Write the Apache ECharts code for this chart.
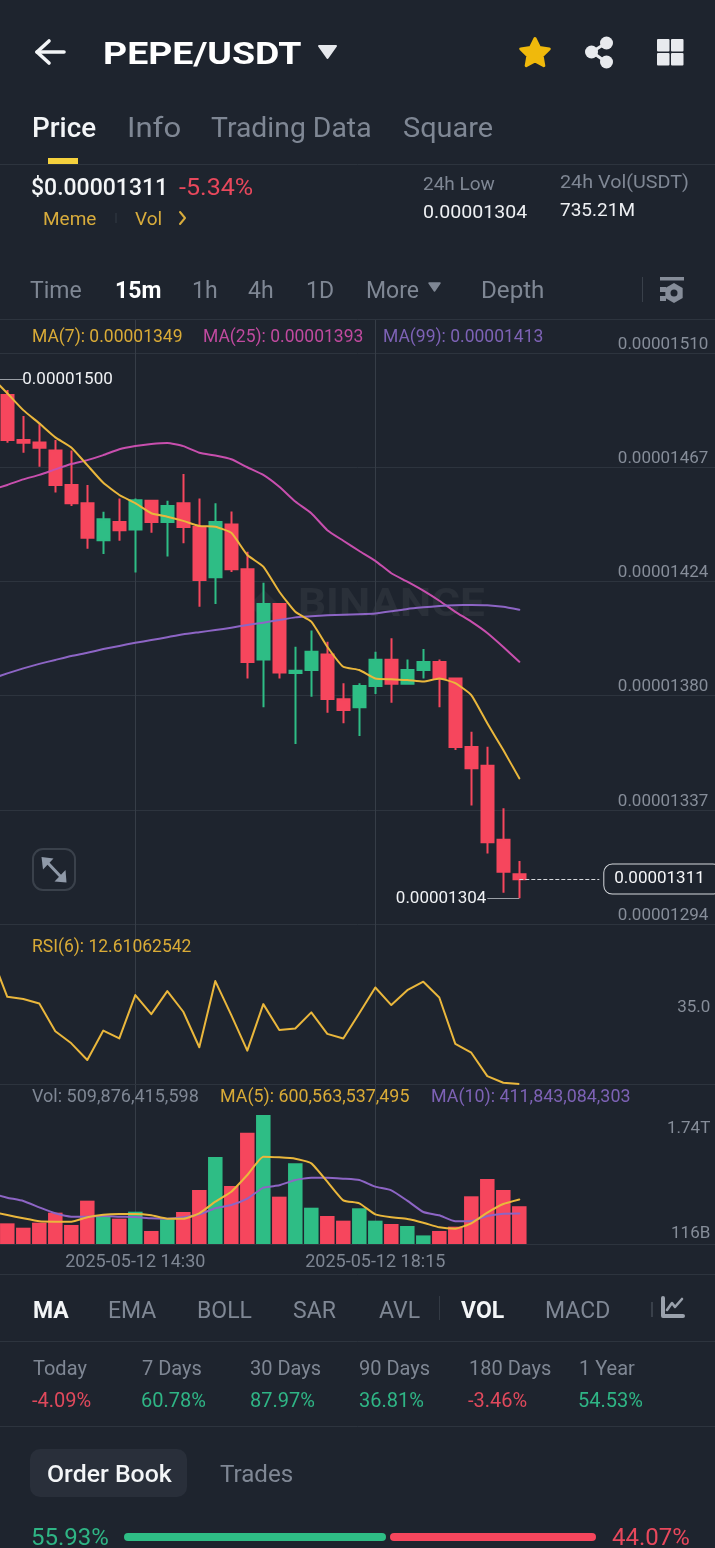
<!DOCTYPE html>
<html><head><meta charset="utf-8"><title>PEPE/USDT</title>
<style>html,body{margin:0;padding:0;background:#1e242e}#c{width:715px;height:1548px}</style>
<script src="https://cdn.jsdelivr.net/npm/echarts@6/dist/echarts.min.js"></script>
</head><body><div id="c"></div>
<script>
// Prices are in units of 1e-8 USDT. The first entry sits just left of the visible window.
const categories = ['2025-05-12 12:15','2025-05-12 12:30','2025-05-12 12:45','2025-05-12 13:00','2025-05-12 13:15','2025-05-12 13:30','2025-05-12 13:45','2025-05-12 14:00','2025-05-12 14:15','2025-05-12 14:30','2025-05-12 14:45','2025-05-12 15:00','2025-05-12 15:15','2025-05-12 15:30','2025-05-12 15:45','2025-05-12 16:00','2025-05-12 16:15','2025-05-12 16:30','2025-05-12 16:45','2025-05-12 17:00','2025-05-12 17:15','2025-05-12 17:30','2025-05-12 17:45','2025-05-12 18:00','2025-05-12 18:15','2025-05-12 18:30','2025-05-12 18:45','2025-05-12 19:00','2025-05-12 19:15','2025-05-12 19:30','2025-05-12 19:45','2025-05-12 20:00','2025-05-12 20:15','2025-05-12 20:30','2025-05-12 20:45','2025-05-12 21:00','2025-05-12 21:15','2025-05-12 21:30','2025-05-12 21:45','2025-05-12 22:00','2025-05-12 22:15','2025-05-12 22:30','2025-05-12 22:45','2025-05-12 23:00','2025-05-12 23:15','2025-05-12 23:30'];
const opens  = [1497,1494.1,1477.1,1476.2,1473.1,1460.1,1453.2,1439.2,1446.1,1443.2,1454.1,1446.1,1453.2,1444.2,1425.2,1445.1,1428.2,1394.1,1415.1,1389.0,1390.1,1396.0,1379.0,1376.0,1384.0,1394.0,1384.9,1390.1,1393.1,1386.9,1361.0,1353.9,1325.9,1312.8];
const closes = [1494.5,1477.1,1476.1,1474.2,1460.1,1453.2,1440.1,1447.1,1443.0,1454.3,1446.1,1452.1,1444.2,1424.1,1446.1,1428.2,1393.1,1415.1,1389.1,1389.8,1397.0,1379.1,1375.0,1384.0,1394.0,1384.9,1390.1,1393.1,1386.9,1361.0,1352.9,1324.9,1313.8,1310.9];
const lows   = [1492,1476.1,1472.3,1467.0,1457.2,1452.1,1436.0,1434.0,1439.0,1427.0,1442.0,1433.0,1438.0,1414.0,1415.1,1427.2,1386.9,1376.0,1386.9,1362.1,1380.0,1373.9,1369.9,1365.1,1381.0,1377.7,1384.9,1386.9,1376.0,1359.8,1338.8,1320.7,1305.8,1303.7];
const highs  = [1500,1496.0,1486.2,1483.4,1477.1,1473.1,1460.1,1450.0,1455.0,1455.0,1454.1,1454.1,1464.2,1455.0,1453.2,1450.1,1434.8,1423.1,1415.1,1398.9,1405.0,1400.8,1385.1,1385.1,1397.0,1402.1,1394.1,1398.0,1394.1,1386.9,1366.7,1361.1,1337.8,1317.8];
const ma7  = [1500.9,1494.8,1488.4,1483.4,1478.1,1474.3,1467.6,1460.9,1456.3,1453.2,1449.4,1448.1,1446.5,1444.6,1444.3,1442.0,1433.6,1429.2,1419.7,1412.1,1408.4,1398.9,1391.3,1390.1,1386.9,1386.6,1386.3,1385.7,1386.9,1385.1,1380.6,1369.9,1359.8,1349.1];
const ma25 = [1458.2,1460.1,1462.2,1463.9,1466.0,1468.0,1469.5,1471.4,1473.6,1474.8,1475.6,1476.0,1474.8,1472.3,1471.2,1469.8,1466.8,1463.9,1459.4,1453.8,1449.4,1443.0,1439.0,1435.1,1431.4,1426.7,1423.5,1420.1,1416.3,1412.1,1408.4,1404.1,1398.8,1393.2];
const ma99 = [1386.7,1388.8,1390.7,1392.4,1393.9,1395.4,1396.6,1398.0,1399.2,1400.4,1401.4,1402.5,1403.6,1404.4,1405.2,1406.1,1407.1,1408.0,1409.0,1410.0,1410.4,1410.8,1411.0,1411.2,1411.5,1412.3,1413.2,1413.8,1414.3,1414.6,1414.7,1414.6,1414.0,1412.9];
const rsi6 = [55.0,41.3,40.6,39.1,30.0,26.0,20.5,30.2,27.6,41.9,35.6,43.2,36.4,24.7,46.5,35.3,23.6,38.9,30.4,30.9,36.2,29.1,27.6,35.9,44.4,38.6,43.5,46.3,41.1,25.8,22.9,15.2,13.0,12.6];
// Volumes are in billions.
const volumes = [300,279,220,288,423,257,585,369,342,436,176,333,432,729,1175,783,1503,1740,639,1089,490,378,315,482,315,270,243,116,176,234,644,878,729,510];
const volMa5  = [436,391.5,346.5,306,301.5,301.5,360,396,405,405,387,342,342,414,571.5,706.5,931.5,1179,1170,1152,1089,841.5,589.5,549,400.5,360,337.5,288,225,207,279,423,540,601];
const volMa10 = [684,625.5,580.5,495,414,369,369,378,369,364.5,346.5,342,360,400.5,481.5,526.5,612,760.5,792,864,895.5,895.5,882,864,774,724.5,585,432,387,306,310.5,378,409.5,412];
const priceTicks = [1294,1337.2,1380.4,1423.6,1466.8,1510];
const rsiTicks = [35];
const volTicks = [116,1740];
const xLabelIdx = [9,24];
const periodNames = ['Today','7 Days','30 Days','90 Days','180 Days','1 Year'];
const periodValues = ['-4.09%','60.78%','87.97%','36.81%','-3.46%','54.53%'];

const BG='#1e242e', LINE='#2d343e', GREY='#7f8794', GREY2='#868d99', WHITE='#f3f5f7', RED='#f6465d', GREEN='#2ebd85', GOLD='#f0b90b';
const YEL='#eab73c', PINK='#c84fae', PURP='#8d65c5';
const FONT='Roboto, sans-serif';
const g=[];
function t(text,x,y,size,fill,weight,sx){g.push({type:'text',x,y:y+3,scaleX:sx||1,z:20,style:{text,fontSize:size,fontFamily:FONT,fontWeight:weight||400,fill,align:'left',verticalAlign:'middle'}});}
function hline(y,x1,x2,c){g.push({type:'line',z:5,shape:{x1:x1||0,y1:y,x2:x2||715,y2:y},style:{stroke:c||LINE,lineWidth:1}});}
function vline(x,y1,y2,c,w){g.push({type:'line',z:5,shape:{x1:x,y1,x2:x,y2},style:{stroke:c||LINE,lineWidth:w||1}});}
function poly(points,fill,extra){g.push({type:'polygon',z:6,shape:{points},style:Object.assign({fill},extra||{})});}
function pl(points,stroke,w){g.push({type:'polyline',z:6,shape:{points},style:{stroke,fill:'none',lineWidth:w,lineCap:'round',lineJoin:'round'}});}
function rect(x,y,w,h,fill,r,extra){g.push({type:'rect',z:4,shape:{x,y,width:w,height:h,r:r||0},style:Object.assign({fill},extra||{})});}
function circ(cx,cy,r,fill){g.push({type:'circle',z:6,shape:{cx,cy,r},style:{fill}});}

// Header
pl([[49,41],[37,52],[49,63]],WHITE,3.6); pl([[37,52],[64,52]],WHITE,3.6);
t('PEPE/USDT',103,53,32,'#ffffff',700,1.17);
poly([[319,46],[336,46],[327.5,58]],'#e6e8ec',{stroke:'#e6e8ec',lineWidth:2,lineJoin:'round'});
(function(){const p=[];for(let i=0;i<10;i++){const a=-Math.PI/2+i*Math.PI/5,r=i%2?7.5:15;p.push([535+r*Math.cos(a),53.5+r*Math.sin(a)]);}poly(p,GOLD,{stroke:GOLD,lineWidth:3,lineJoin:'round'});})();
pl([[606,43],[592,52],[606,62]],'#e8eaee',3); circ(606.5,43,6.5,'#e8eaee'); circ(591.5,52,6.5,'#e8eaee'); circ(606.5,62,6.5,'#e8eaee');
[[657,39],[671,39],[657,53],[671,53]].forEach(p=>rect(p[0],p[1],12.5,12.5,'#e8eaee',1));
t('Price',32,127,27,WHITE,500,1.03); t('Info',127,127,27,GREY,400,1.15); t('Trading Data',211,127,27,GREY,400,1.05); t('Square',403,127,27,GREY,400,1.07);
rect(48,158,30,6,'#f5d13d'); hline(164.5);
t('$0.00001311',31,186,23,WHITE,500); t('-5.34%',179,186,23,'#e8485c',400,1.09);
t('Meme',43,217,19,'#d8ac3c'); vline(116,213,223,'#333a44'); t('Vol',135,217,19,'#d8ac3c'); pl([[180,212],[185,218],[180,224]],'#d8ac3c',2);
t('24h Low',423,182,19,GREY); t('0.00001304',423,210,19,'#eef0f3',400,1.03);
t('24h Vol(USDT)',560,180,19,GREY,400,1.04); t('735.21M',560,208,19,'#eef0f3',400);
// Interval row
t('Time',30,289,23,GREY); t('15m',115,289,23,'#ffffff',700); t('1h',192,289,23,GREY); t('4h',248,289,23,GREY); t('1D',306,289,23,GREY); t('More',366,289,23,GREY);
poly([[429,283],[440,283],[434.5,291]],GREY,{stroke:GREY,lineWidth:1.5,lineJoin:'round'});
t('Depth',481,289,23,GREY,400,1.05); vline(642.5,277,302,'#39404a');
rect(660,277,24,3.5,GREY2); rect(660,287,6,5,GREY2); rect(660,296,6,5,GREY2);
(function(){const p=[];for(let i=0;i<6;i++){const a=Math.PI/6+i*Math.PI/3;p.push([674+10*Math.cos(a),293+10*Math.sin(a)]);}poly(p,GREY2);})(); circ(674,293,3.5,BG);
hline(319.5);
// Legends
t('MA(7): 0.00001349',32,335,17.5,'#d9ab37'); t('MA(25): 0.00001393',203,335,17.5,'#c04a9f'); t('MA(99): 0.00001413',383,335,17.5,'#7d62b5');
t('RSI(6): 12.61062542',32,945,17.5,'#d9ab37');
t('Vol: 509,876,415,598',32,1095,17.5,GREY,400,1.03); t('MA(5): 600,563,537,495',220,1095,17.5,'#d9ab37',400,1.02); t('MA(10): 411,843,084,303',431,1095,17.5,'#7d62b5',400,1.02);
// Expand button
rect(33,849,42,41,'none',10,{stroke:'#3a414b',lineWidth:2});
pl([[46,861],[62,878]],'#8f99a8',3); poly([[41.5,857],[53.5,858.5],[43,869.5]],'#8f99a8'); poly([[66.5,882.5],[54.5,881.5],[65.5,870]],'#8f99a8');
// Watermark
g.push({type:'text',x:298,y:606,scaleX:1.13,z:0,style:{text:'BINANCE',fontSize:39,fontWeight:700,fontFamily:FONT,fill:'rgba(255,255,255,0.055)',verticalAlign:'middle'}});
g.push({type:'polygon',z:0,shape:{points:[[264,590],[279,605],[264,620],[249,605]]},style:{fill:'rgba(255,255,255,0.045)'}});
// Indicator row
hline(1274.5);
t('MA',33,1309,23,WHITE,700); t('EMA',108,1309,23,GREY); t('BOLL',197,1309,23,GREY); t('SAR',293,1309,23,GREY); t('AVL',379,1309,23,GREY);
vline(439.5,1296,1320,'#333a44'); t('VOL',461,1309,23,WHITE,700); t('MACD',545,1309,23,GREY); vline(652,1302,1317,'#39404a',2);
pl([[663,1298],[663,1316],[683,1316]],'#9aa1ac',4); pl([[667,1310],[672,1303],[675,1307],[682,1299]],'#9aa1ac',2.6);
hline(1341.5);
// Period stats
const periodX=[33,142,250,359,469,579], periodVX=[32,141,250,359,468,578];
periodNames.forEach((n,i)=>t(n,periodX[i],1367,20,GREY));
periodValues.forEach((v,i)=>t(v,periodVX[i],1399,20,v[0]==='-'?'#e0495c':'#2fb585'));
hline(1426.5);
// Order book
rect(30,1449,157,48,'#292f3a',10);
t('Order Book',47,1473,23,WHITE,500,1.08); t('Trades',220,1473,23,GREY,400,1.05);
t('55.93%',31,1536,24,'#2fb585'); t('44.07%',612,1536,24,'#e8485c');
rect(124,1533,262,8,GREEN,4); rect(390,1533,206,8,RED,4);

const xBase=(i,showLabel)=>({type:'category',gridIndex:i,data:categories,boundaryGap:true,
  axisLine:{show:i>0,lineStyle:{color:LINE}},axisTick:{show:false},
  axisLabel:showLabel?{show:true,interval:(idx)=>xLabelIdx.includes(idx),color:GREY,fontFamily:FONT,fontSize:18,margin:9,hideOverlap:false,formatter:v=>v}:{show:false},
  splitLine:{show:true,alignWithLabel:true,interval:(idx)=>xLabelIdx.includes(idx),lineStyle:{color:'#363d47',width:1}}});
const grids=[{left:-16.7,width:736,top:320,height:604,outerBoundsMode:'none'},{left:-16.7,width:736,top:924,height:160,outerBoundsMode:'none'},{left:-16.7,width:736,top:1084,height:160,outerBoundsMode:'none'}];
const chart=echarts.init(document.getElementById('c'));
const lineS=(name,data,color,xi,z)=>({name,type:'line',data,xAxisIndex:xi,yAxisIndex:xi,symbol:'none',smooth:0.15,z:z||4,lineStyle:{color,width:2,cap:'round',join:'round'},silent:true});
const lbl=(text,distance)=>({show:true,formatter:text,position:'end',distance,color:'#f0f2f5',fontFamily:FONT,fontSize:17});
chart.setOption({
  animation:false,backgroundColor:BG,graphic:{elements:g},grid:grids,
  xAxis:[xBase(0,false),xBase(1,false),xBase(2,true)],
  yAxis:[
   {type:'value',gridIndex:0,position:'right',min:1294,max:1522.5,axisLine:{show:false},axisTick:{show:false,customValues:priceTicks},
    axisLabel:{inside:true,customValues:priceTicks,formatter:v=>(v/1e8).toFixed(8),color:GREY2,fontFamily:FONT,fontSize:17,verticalAlign:'bottom',margin:11,lineHeight:17},
    splitLine:{show:true,lineStyle:{color:LINE,width:1}}},
   {type:'value',gridIndex:1,position:'right',min:12.6,max:65.3,axisLine:{show:false},axisTick:{show:false,customValues:rsiTicks},
    axisLabel:{inside:true,customValues:rsiTicks,formatter:v=>v.toFixed(1),color:GREY2,fontFamily:FONT,fontSize:17,verticalAlign:'bottom',margin:9,lineHeight:17},
    splitLine:{show:false}},
   {type:'value',gridIndex:2,position:'right',min:0,max:2160,axisLine:{show:false},axisTick:{show:false,customValues:volTicks},
    axisLabel:{inside:true,customValues:volTicks,formatter:v=>v>=1000?'{hi|'+(v/1000).toFixed(2)+'T}':'{lo|'+v+'B}',
      rich:{hi:{color:GREY2,fontFamily:FONT,fontSize:17,padding:[28,0,0,0]},lo:{color:GREY2,fontFamily:FONT,fontSize:17,padding:[0,0,4,0]}},margin:9},
    splitLine:{show:false}}
  ],
  series:[
   {name:'marks',type:'line',data:closes,xAxisIndex:0,yAxisIndex:0,symbol:'none',lineStyle:{opacity:0},z:1,silent:true,
    markLine:{silent:true,symbol:'none',animation:false,precision:2,
     data:[
      [{coord:[categories[0],1500],lineStyle:{color:'#9a9fa6',width:1,type:'solid'},label:lbl('0.00001500',-1)},{coord:[categories[2],1500]}],
      [{coord:[categories[33],1303.7],lineStyle:{color:'#9a9fa6',width:1,type:'solid'},label:lbl('0.00001304',1)},{coord:[categories[31],1303.7]}],
      [{coord:[categories[33],1311],lineStyle:{color:'#d5d8dc',width:1,type:'dashed'},
        label:{show:true,formatter:'0.00001311',position:'end',distance:5,color:'#f5f6f8',fontFamily:FONT,fontSize:17,lineHeight:20,backgroundColor:BG,borderColor:'#d5d8dc',borderWidth:1,borderRadius:8,padding:[5,16,4,10]}},
       {coord:[categories[38],1311]}]
     ]}},
   {name:'PEPE/USDT',type:'candlestick',xAxisIndex:0,yAxisIndex:0,z:3,barWidth:13,silent:true,
    data:opens.map((o,i)=>[o,closes[i],lows[i],highs[i]]),
    itemStyle:{color:GREEN,color0:RED,borderColor:GREEN,borderColor0:RED,borderWidth:2}},
   lineS('MA(7)',ma7,YEL,0,5),lineS('MA(25)',ma25,PINK,0,4),lineS('MA(99)',ma99,PURP,0,4),
   {name:'RSI(6)',type:'line',data:rsi6,xAxisIndex:1,yAxisIndex:1,symbol:'none',z:4,lineStyle:{color:YEL,width:2,join:'round'},silent:true},
   {name:'Vol',type:'bar',data:volumes.map((v,i)=>({value:v,itemStyle:{color:closes[i]>=opens[i]?GREEN:RED}})),xAxisIndex:2,yAxisIndex:2,barWidth:14.5,z:2,silent:true},
   lineS('MA(5)',volMa5,YEL,2,5),lineS('MA(10)',volMa10,PURP,2,4)
  ]
});
</script></body></html>
